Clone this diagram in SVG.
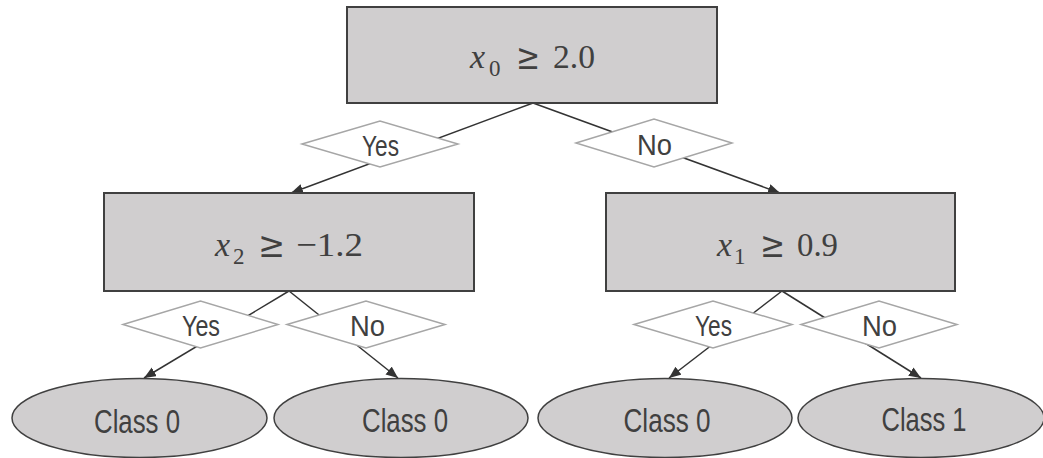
<svg xmlns="http://www.w3.org/2000/svg" width="1043" height="458" viewBox="0 0 1043 458">
<style>
.box{fill:#d0cecf;stroke:#404040;stroke-width:2}
.leaf{fill:#d0cecf;stroke:#404040;stroke-width:1.5}
.dia{fill:#ffffff;stroke:#a6a6a6;stroke-width:1.5}
.edge{stroke:#333333;stroke-width:1.5;fill:none;marker-end:url(#arr)}
.math{font-family:"Liberation Serif","DejaVu Serif",serif;font-size:34px;fill:#404040}
.sub{font-size:23px}
.it{font-style:italic}
.rel{font-family:"DejaVu Serif",serif;font-size:36px}
.lbl{font-family:"Liberation Sans",Arial,sans-serif;font-size:30px;fill:#404040;text-anchor:middle}
.cls{font-family:"Liberation Sans",Arial,sans-serif;font-size:34px;fill:#404040;text-anchor:middle}
</style>
<defs>
<marker id="arr" markerUnits="userSpaceOnUse" markerWidth="14" markerHeight="12" refX="12" refY="5" orient="auto">
<path d="M0,0 L12,5 L0,10 Z" fill="#333333"/>
</marker>
</defs>
<rect width="1043" height="458" fill="#ffffff"/>
<g id="connectors">
<line class="edge" x1="533" y1="103" x2="291" y2="193"/>
<line class="edge" x1="533" y1="103" x2="780" y2="193"/>
<line class="edge" x1="289" y1="291" x2="144" y2="378"/>
<line class="edge" x1="289" y1="291" x2="398" y2="378"/>
<line class="edge" x1="782" y1="291" x2="669" y2="378"/>
<line class="edge" x1="782" y1="291" x2="921" y2="378"/>
</g>
<g id="root">
<rect class="box" x="347" y="7" width="370" height="96"/>
<text class="math"><tspan class="it" x="470" y="68">x</tspan><tspan class="sub" x="489" y="76">0</tspan><tspan class="rel" x="516" y="69" textLength="24" lengthAdjust="spacingAndGlyphs">≥</tspan><tspan x="553" y="68" textLength="42" lengthAdjust="spacingAndGlyphs">2.0</tspan></text>
</g>
<g id="lbl-root-yes">
<polygon class="dia" points="302,144 380,121 458,144 380,167"/>
<text class="lbl" x="380.5" y="156" textLength="37" lengthAdjust="spacingAndGlyphs">Yes</text>
</g>
<g id="lbl-root-no">
<polygon class="dia" points="576,143 654,119 732,143 654,167"/>
<text class="lbl" x="654.5" y="155" textLength="35" lengthAdjust="spacingAndGlyphs">No</text>
</g>
<g id="node-left">
<rect class="box" x="104" y="193" width="370" height="98"/>
<text class="math"><tspan class="it" x="215" y="256">x</tspan><tspan class="sub" x="233" y="264">2</tspan><tspan class="rel" x="258" y="257" textLength="27" lengthAdjust="spacingAndGlyphs">≥</tspan><tspan x="296" y="256" textLength="67" lengthAdjust="spacingAndGlyphs">−1.2</tspan></text>
</g>
<g id="node-right">
<rect class="box" x="606" y="193" width="349" height="98"/>
<text class="math"><tspan class="it" x="717" y="256">x</tspan><tspan class="sub" x="734" y="264">1</tspan><tspan class="rel" x="760" y="257" textLength="25" lengthAdjust="spacingAndGlyphs">≥</tspan><tspan x="797" y="256" textLength="41" lengthAdjust="spacingAndGlyphs">0.9</tspan></text>
</g>
<g id="lbl-left-yes">
<polygon class="dia" points="123,324.5 200.5,301 278,324.5 200.5,348"/>
<text class="lbl" x="201" y="336" textLength="38" lengthAdjust="spacingAndGlyphs">Yes</text>
</g>
<g id="lbl-left-no">
<polygon class="dia" points="287,324.5 366,301 445,324.5 366,348"/>
<text class="lbl" x="367.5" y="336" textLength="35" lengthAdjust="spacingAndGlyphs">No</text>
</g>
<g id="lbl-right-yes">
<polygon class="dia" points="634,324.5 713,301 792,324.5 713,348"/>
<text class="lbl" x="713.5" y="336" textLength="37" lengthAdjust="spacingAndGlyphs">Yes</text>
</g>
<g id="lbl-right-no">
<polygon class="dia" points="801,324.5 879,301 957,324.5 879,348"/>
<text class="lbl" x="879.5" y="336" textLength="35" lengthAdjust="spacingAndGlyphs">No</text>
</g>
<g id="leaf-1">
<ellipse class="leaf" cx="139.5" cy="418" rx="127.5" ry="39.5"/>
<text class="cls" x="137" y="433" textLength="86" lengthAdjust="spacingAndGlyphs">Class 0</text>
</g>
<g id="leaf-2">
<ellipse class="leaf" cx="401" cy="418" rx="127" ry="39.5"/>
<text class="cls" x="405" y="432" textLength="86" lengthAdjust="spacingAndGlyphs">Class 0</text>
</g>
<g id="leaf-3">
<ellipse class="leaf" cx="665" cy="418" rx="127" ry="39.5"/>
<text class="cls" x="667" y="432" textLength="87" lengthAdjust="spacingAndGlyphs">Class 0</text>
</g>
<g id="leaf-4">
<ellipse class="leaf" cx="921" cy="418" rx="123" ry="39.5"/>
<text class="cls" x="924" y="431" textLength="85" lengthAdjust="spacingAndGlyphs">Class 1</text>
</g>
</svg>
